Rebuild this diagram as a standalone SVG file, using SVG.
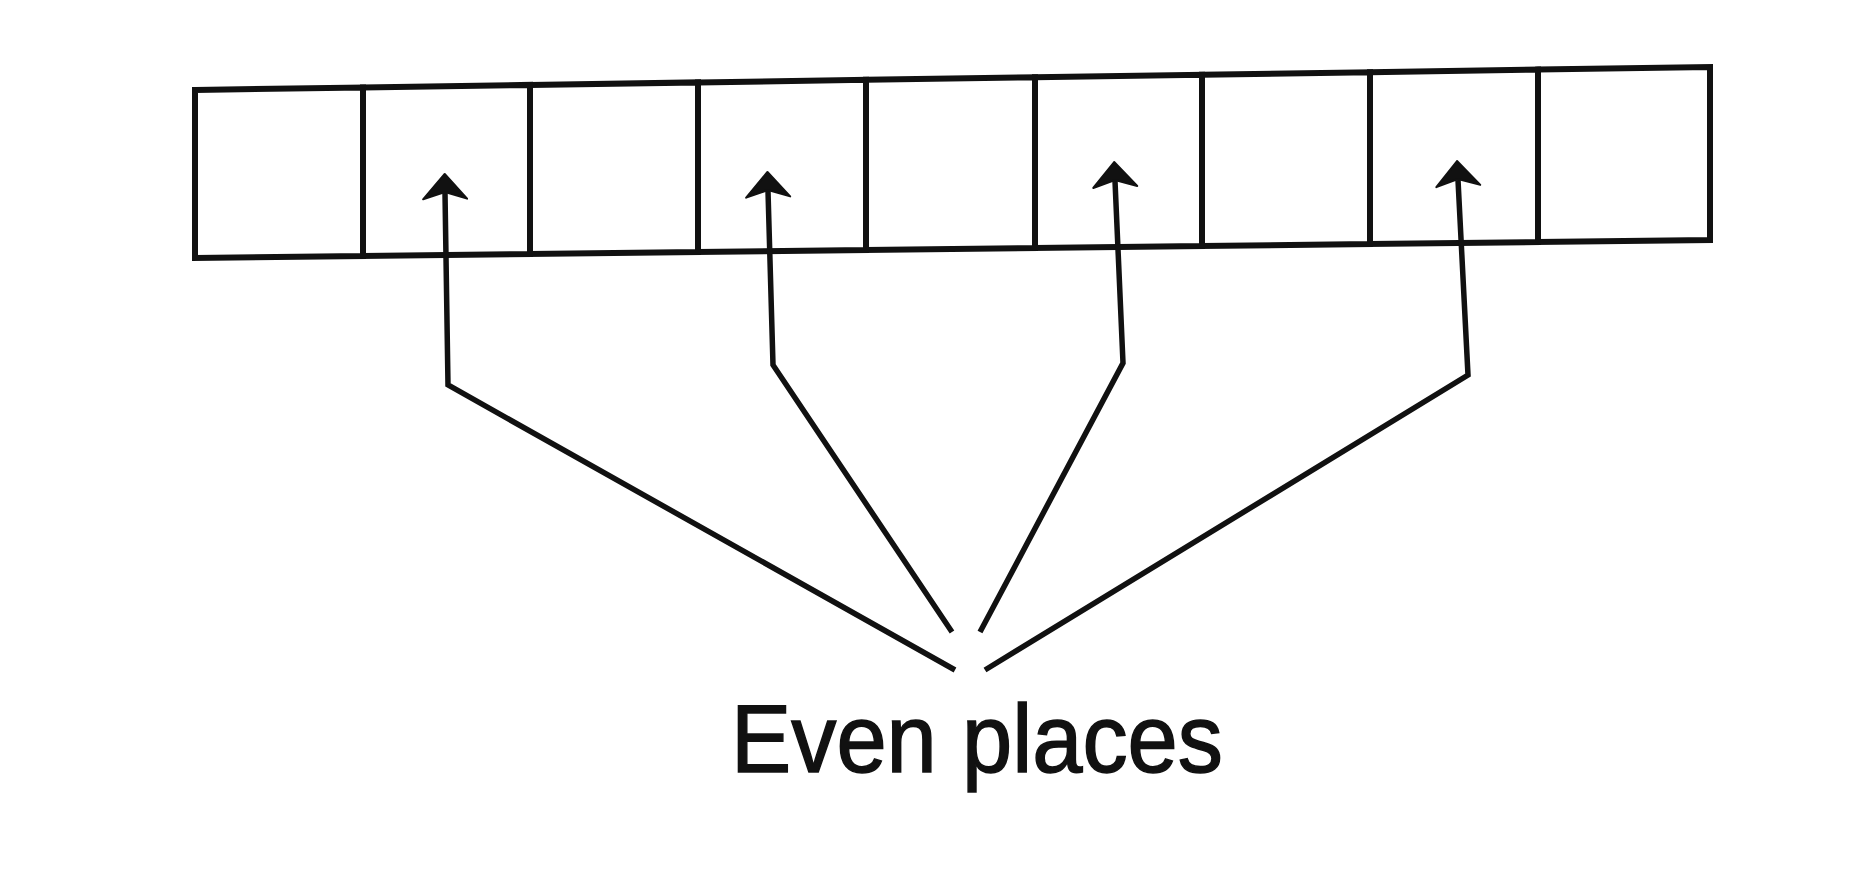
<svg xmlns="http://www.w3.org/2000/svg" width="1872" height="894" viewBox="0 0 1872 894">
<style>
.cell{fill:none;stroke:#111;stroke-width:6;stroke-linejoin:miter}
.conn{fill:none;stroke:#111;stroke-width:5.5;stroke-linejoin:miter}
.label{font-family:"Liberation Sans",Arial,sans-serif;font-size:96px;fill:#111;stroke:#111;stroke-width:1.5}
</style>
<defs>
<marker id="arrow" markerUnits="userSpaceOnUse" markerWidth="32" markerHeight="48" viewBox="-2 -24 30 48" refX="6" refY="0" orient="auto">
<path d="M 25 0 L 0 -22 L 7 0 L 0 22 Z" fill="#111" stroke="#111" stroke-width="2" stroke-linejoin="round"/>
</marker>
</defs>
<rect x="0" y="0" width="1872" height="894" fill="#fff"/>
<g id="cells">
<g id="cell1"><polygon class="cell" points="195,90 363,87.5 363,256 195,258"/></g>
<g id="cell2"><polygon class="cell" points="363,87.5 530,84.9 530,254 363,256"/></g>
<g id="cell3"><polygon class="cell" points="530,84.9 698,82.4 698,252 530,254"/></g>
<g id="cell4"><polygon class="cell" points="698,82.4 866,79.8 866,250 698,252"/></g>
<g id="cell5"><polygon class="cell" points="866,79.8 1035,77.2 1035,248 866,250"/></g>
<g id="cell6"><polygon class="cell" points="1035,77.2 1202,74.7 1202,246 1035,248"/></g>
<g id="cell7"><polygon class="cell" points="1202,74.7 1370,72.2 1370,244 1202,246"/></g>
<g id="cell8"><polygon class="cell" points="1370,72.2 1538,69.6 1538,242 1370,244"/></g>
<g id="cell9"><polygon class="cell" points="1538,69.6 1710,67 1710,240 1538,242"/></g>
</g>
<g id="connectors">
<polyline class="conn" points="955,670 448,385 445,193" marker-end="url(#arrow)"/>
<polyline class="conn" points="952,632 773,365 768,191" marker-end="url(#arrow)"/>
<polyline class="conn" points="980,632 1123,363 1115,181" marker-end="url(#arrow)"/>
<polyline class="conn" points="985,670 1468,375 1458,180" marker-end="url(#arrow)"/>
</g>
<g id="label-even-places">
<text class="label" x="731" y="772" textLength="492" lengthAdjust="spacingAndGlyphs">Even places</text>
</g>
</svg>
